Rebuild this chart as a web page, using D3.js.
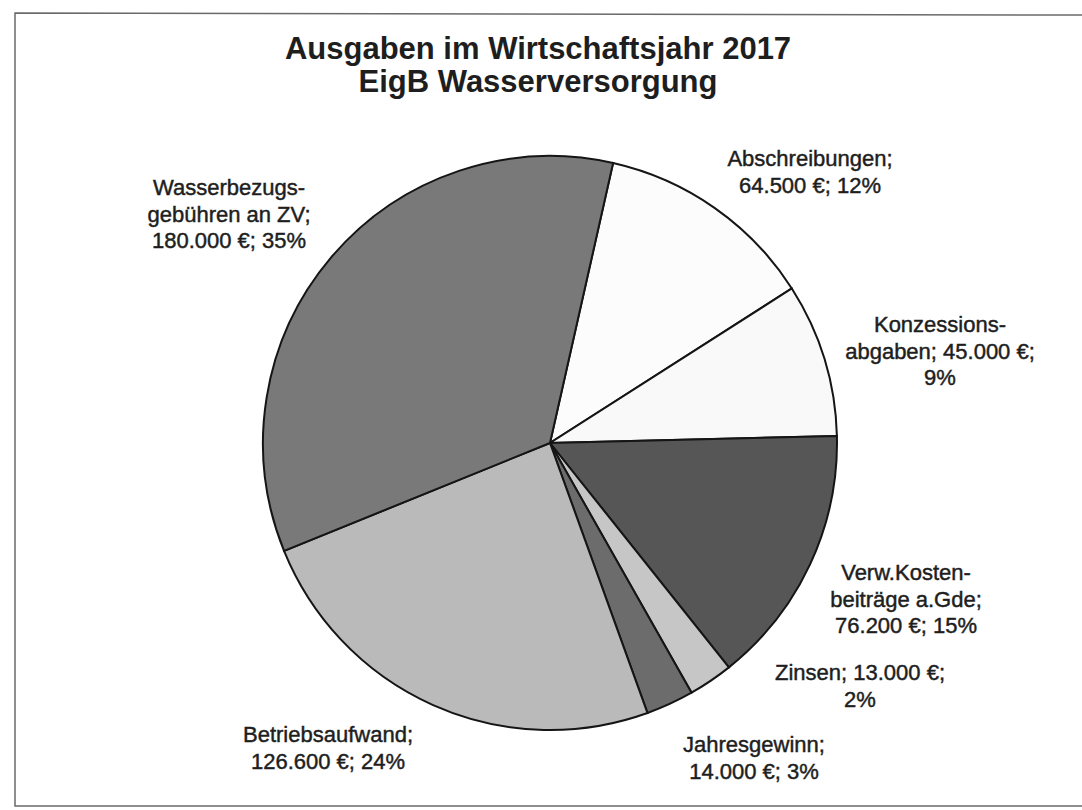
<!DOCTYPE html>
<html lang="de">
<head>
<meta charset="UTF-8"/>
<title>Ausgaben im Wirtschaftsjahr 2017</title>
<script src="https://d3js.org/d3.v7.min.js"></script>
<style>
    body { margin: 0; background: #fff; }
    text { font-family: "Liberation Sans", Arial, sans-serif; fill: #1e1e1e; }
    .title { font-size: 31px; font-weight: bold; }
    .label { font-size: 22px; stroke: #1e1e1e; stroke-width: 0.45px; }
    .frame { stroke: #6a6a6a; stroke-width: 1.5px; fill: none; }
    path.slice { stroke: #151515; stroke-width: 2px; }
</style>
</head>
<body>
<div id="chart"></div>
<script>
// data
var categories = ["Abschreibungen", "Konzessionsabgaben", "Verw.Kostenbeiträge a.Gde", "Zinsen",
                  "Jahresgewinn", "Betriebsaufwand", "Wasserbezugsgebühren an ZV"];
var values = [64500, 45000, 76200, 13000, 14000, 126600, 180000];
var percents = [12, 9, 15, 2, 3, 24, 35];
var nameLines = [
    ["Abschreibungen;"],
    ["Konzessions-", "abgaben;"],
    ["Verw.Kosten-", "beiträge a.Gde;"],
    ["Zinsen;"],
    ["Jahresgewinn;"],
    ["Betriebsaufwand;"],
    ["Wasserbezugs-", "gebühren an ZV;"]
];
var titleLines = ["Ausgaben im Wirtschaftsjahr 2017", "EigB Wasserversorgung"];

// layout
var width = 1082, height = 810;
var cx = 550, cy = 443, radius = 287;
var startAngle = 12.7 * Math.PI / 180;
var colors = ["#fcfcfc", "#f9f9f9", "#565656", "#c6c6c6", "#6c6c6c", "#bababa", "#797979"];
// label anchor (center x, first baseline) and how the value/percent line is joined
var labelPos = [[810, 166], [940, 332], [906, 580], [860, 680], [754, 752], [328, 742], [229, 195]];
var joinValue = [false, true, false, true, false, false, false];

var de = d3.formatLocale({decimal: ",", thousands: ".", grouping: [3], currency: ["", " €"]});
var fmt = de.format(",.0f");

var svg = d3.select("#chart").append("svg")
    .attr("width", width)
    .attr("height", height);

// scanned frame
svg.append("path").attr("class", "frame")
    .attr("d", "M1082,15 L15,13 L15,806 L1082,806");

// title
svg.append("text")
    .attr("class", "title")
    .attr("text-anchor", "middle")
    .selectAll("tspan")
    .data(titleLines)
    .enter().append("tspan")
    .attr("x", 538)
    .attr("y", function (d, i) { return 59 + i * 33; })
    .text(function (d) { return d; });

// pie
var pie = d3.pie().sort(null)
    .startAngle(startAngle)
    .endAngle(startAngle + 2 * Math.PI);
var arc = d3.arc().innerRadius(0).outerRadius(radius);

var g = svg.append("g").attr("transform", "translate(" + cx + "," + cy + ")");
g.selectAll("path.slice")
    .data(pie(values))
    .enter().append("path")
    .attr("class", "slice")
    .attr("d", arc)
    .style("fill", function (d, i) { return colors[i]; });

// labels
function linesFor(i) {
    var val = fmt(values[i]) + " €;";
    var pct = percents[i] + "%";
    var lines = nameLines[i].slice();
    if (joinValue[i]) {
        lines[lines.length - 1] += " " + val;
        lines.push(pct);
    } else {
        lines.push(val + " " + pct);
    }
    return lines;
}

var labels = svg.append("g").selectAll("text")
    .data(categories)
    .enter().append("text")
    .attr("class", "label")
    .attr("text-anchor", "middle");

labels.each(function (d, i) {
    var t = d3.select(this);
    linesFor(i).forEach(function (line, k) {
        t.append("tspan")
            .attr("x", labelPos[i][0])
            .attr("y", labelPos[i][1] + k * 26.5)
            .text(line);
    });
});
</script>
</body>
</html>
